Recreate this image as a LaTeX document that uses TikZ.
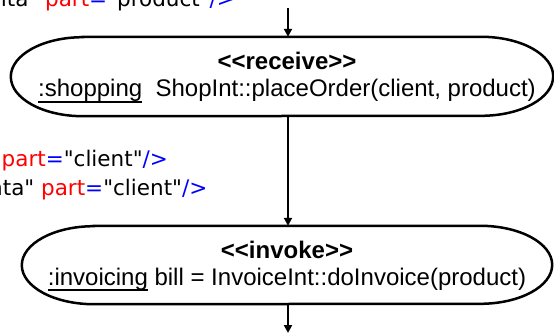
\documentclass[tikz,border=0pt]{standalone}
\usepackage{fontspec}
\setmainfont{Liberation Sans}[Ligatures=TeXOff]
\newfontfamily\xmlfont{DejaVu Sans}[Ligatures=TeXOff]
\usetikzlibrary{arrows.meta}

% underline drawn as a solid bar below the baseline
\newcommand\ulabel[1]{\setbox0\hbox{#1}\rlap{\rule[-5.6pt]{\wd0}{1.8pt}}\box0\relax}
% XML attribute snippet: part="..."/>
\newcommand\xmlpart[1]{\textcolor{red}{part}\textcolor{blue}{=}"#1"\textcolor{blue}{/>}}

\tikzset{
  actframe/.style={shape=rectangle, draw=none, inner sep=0pt},
  actline/.style={line width=2.5pt, draw=black},
  flow/.style={line width=2pt, -{Triangle[length=8pt,width=8pt]}},
  stereo/.style={font=\fontsize{24}{27}\selectfont\bfseries, anchor=base, inner sep=0pt},
  call/.style={font=\fontsize{24}{27}\selectfont, anchor=base, inner sep=0pt},
  xml/.style={font=\xmlfont\fontsize{21.5}{28}\selectfont, anchor=base west, inner sep=0pt},
}

\begin{document}
\begin{tikzpicture}[x=1pt, y=-1pt]
  \useasboundingbox (0,0) rectangle (554,334);
  \clip (0,0) rectangle (554,334);

  % XML fragments
  \node[xml] (xmltop) at (-7,7) {nta" \xmlpart{product}};
  \node[xml] (xmlmid) at (1.5,167) {\xmlpart{client}};
  \node[xml] (xmllow) at (-11,195) {nta" \xmlpart{client}};

  % action frames
  \node[actframe, minimum width=542pt, minimum height=79pt] (recv) at (282,76.5) {};
  \node[actframe, minimum width=530pt, minimum height=78pt] (inv) at (287,265) {};

  \draw[actline] ([xshift=72pt]recv.north west) -- ([xshift=-72pt]recv.north east)
    arc[start angle=90, end angle=-90, x radius=72pt, y radius=39.5pt]
    -- ([xshift=72pt]recv.south west)
    arc[start angle=270, end angle=90, x radius=72pt, y radius=39.5pt] -- cycle;
  \draw[actline] ([xshift=72pt]inv.north west) -- ([xshift=-72pt]inv.north east)
    arc[start angle=90, end angle=-90, x radius=72pt, y radius=39pt]
    -- ([xshift=72pt]inv.south west)
    arc[start angle=270, end angle=90, x radius=72pt, y radius=39pt] -- cycle;

  % action labels
  \node[stereo] (recvst) at (287,70) {<<receive>>};
  \node[call] (recvop) at (287,97) {\ulabel{:shopping}\ \ ShopInt::placeOrder(client, product)};
  \node[stereo] (invst) at (287,258) {<<invoke>>};
  \node[call] (invop) at (287,285) {\ulabel{:invoicing} bill = InvoiceInt::doInvoice(product)};

  % control flow
  \coordinate (feed) at (288,8);
  \coordinate (out) at (288,333);
  \draw[flow] (feed) -- (feed |- recv.north);
  \draw[flow] (recv.south -| feed) -- (inv.north -| feed);
  \draw[flow] (inv.south -| feed) -- (out);
\end{tikzpicture}
\end{document}
